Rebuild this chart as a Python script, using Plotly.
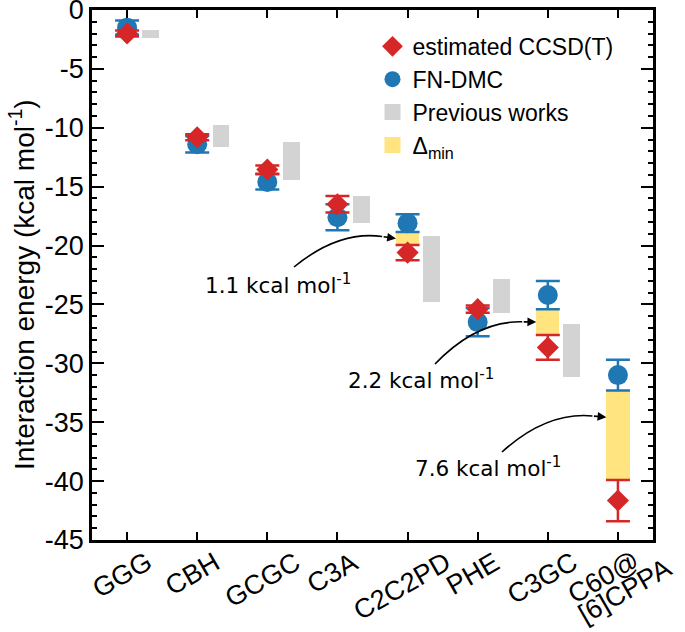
import plotly.graph_objects as go

# ---------------- data ----------------
categories = ["GGG", "CBH", "GCGC", "C3A", "C2C2PD", "PHE", "C3GC", "C60@<br>[6]CPPA"]
cat_pos = [0, 1, 2, 3, 4, 5, 6, 7]

ccsd = [-2.0, -10.8, -13.55, -16.5, -20.6, -25.4, -28.65, -41.65]
ccsd_err = [0.25, 0.25, 0.35, 0.7, 0.65, 0.3, 1.05, 1.75]

dmc = [-1.5, -11.4, -14.6, -17.6, -18.1, -26.5, -24.2, -31.0]
dmc_err = [0.6, 0.7, 0.65, 1.1, 0.75, 1.2, 1.2, 1.3]

prev_low = [-2.4, -11.6, -14.4, -18.1, -24.8, -25.7, -31.2]
prev_high = [-1.7, -9.8, -11.2, -15.8, -19.2, -22.8, -26.7]

delta_idx = [4, 6, 7]
delta_labels = ["1.1 kcal mol<sup>-1</sup>", "2.2 kcal mol<sup>-1</sup>", "7.6 kcal mol<sup>-1</sup>"]

y_tick_vals = [0, -5, -10, -15, -20, -25, -30, -35, -40, -45]
y_tick_text = ["0", "-5", "-10", "-15", "-20", "-25", "-30", "-35", "-40", "-45"]
y_title = "Interaction energy (kcal mol<sup>-1</sup>)"

# ---------------- style ----------------
RED = "#d62728"
BLUE = "#1f77b4"
GREY = "#d3d3d3"
YELLOW = "#ffe480"
FONT = "Liberation Sans, Arial, sans-serif"
AFONT = "DejaVu Sans, sans-serif"

W, H = 685, 632
ML, MR, MT, MB = 92, 32, 10, 92
XR = [-0.5, 7.5]
YR = [-45, 0]

def to_px(x, y):
    pw = W - ML - MR
    ph = H - MT - MB
    px = ML + (x - XR[0]) / (XR[1] - XR[0]) * pw
    py = MT + (YR[1] - y) / (YR[1] - YR[0]) * ph
    return px, py

def to_data(px, py):
    pw = W - ML - MR
    ph = H - MT - MB
    x = XR[0] + (px - ML) / pw * (XR[1] - XR[0])
    y = YR[1] - (py - MT) / ph * (YR[1] - YR[0])
    return x, y

fig = go.Figure()

# previous works (grey bars)
prev_x = [cat_pos[i] + 0.34 for i in range(len(prev_low))]
fig.add_trace(go.Bar(
    x=prev_x, y=[h - l for l, h in zip(prev_low, prev_high)], base=prev_low,
    width=0.24, marker=dict(color=GREY, line=dict(width=0)),
    showlegend=False, hoverinfo="skip"))

# delta_min (yellow bars)
d_x = [cat_pos[i] for i in delta_idx]
d_base = [ccsd[i] + ccsd_err[i] for i in delta_idx]
d_top = [dmc[i] - dmc_err[i] for i in delta_idx]
fig.add_trace(go.Bar(
    x=d_x, y=[t - b for b, t in zip(d_base, d_top)], base=d_base,
    width=0.33, marker=dict(color=YELLOW, line=dict(width=0)),
    showlegend=False, hoverinfo="skip"))

# FN-DMC
fig.add_trace(go.Scatter(
    x=cat_pos, y=dmc, mode="markers", name="FN-DMC", legendrank=2,
    marker=dict(symbol="circle", size=20, color=BLUE),
    error_y=dict(type="data", array=dmc_err, color=BLUE, thickness=2.5, width=12)))

# estimated CCSD(T)
fig.add_trace(go.Scatter(
    x=cat_pos, y=ccsd, mode="markers", name="estimated CCSD(T)", legendrank=1,
    marker=dict(symbol="diamond", size=17, color=RED),
    error_y=dict(type="data", array=ccsd_err, color=RED, thickness=2.5, width=12)))

# legend proxies for the bars
fig.add_trace(go.Scatter(x=[None], y=[None], mode="markers", name="Previous works", legendrank=3,
                         marker=dict(symbol="square", size=16, color=GREY)))
fig.add_trace(go.Scatter(x=[None], y=[None], mode="markers", name="Δ<sub>min</sub>", legendrank=4,
                         marker=dict(symbol="square", size=16, color=YELLOW)))

# curved arrows with labels
ann_layout = [
    ((278, 284), (294, 267), 0.5),
    ((421, 379), (435, 364), 0.5),
    ((488, 467), (502, 452), 0.3),
]
shapes = []
annotations = []
for k, i in enumerate(delta_idx):
    (tx, ty), (sx, sy), frac = ann_layout[k]
    ex_d = cat_pos[i] - 0.165
    ey_d = d_top[k] - frac * (d_top[k] - d_base[k])
    ex, ey = to_px(ex_d, ey_d)
    mx, my = (sx + ex) / 2, (sy + ey) / 2
    dx, dy = ex - sx, ey - sy
    L = (dx * dx + dy * dy) ** 0.5
    nx, ny = dy / L, -dx / L
    rad = 0.22 * L
    cx, cy = mx + nx * rad, my + ny * rad
    sxd, syd = to_data(sx, sy)
    cxd, cyd = to_data(cx, cy)
    tx_e, ty_e = ex - cx, ey - cy
    tl = (tx_e ** 2 + ty_e ** 2) ** 0.5
    hx, hy = ex - tx_e / tl * 14, ey - ty_e / tl * 14
    hxd, hyd = to_data(hx, hy)
    shapes.append(dict(type="path", xref="x", yref="y",
                       path=f"M {sxd},{syd} Q {cxd},{cyd} {hxd},{hyd}",
                       line=dict(color="black", width=1.6)))
    annotations.append(dict(x=ex_d, y=ey_d, xref="x", yref="y", text="", showarrow=True,
                            ax=hxd, ay=hyd, axref="x", ayref="y",
                            arrowhead=2, arrowsize=1.1, arrowwidth=1.6, arrowcolor="black",
                            standoff=0))
    txd, tyd = to_data(tx, ty)
    annotations.append(dict(x=txd, y=tyd, xref="x", yref="y", text=delta_labels[k],
                            showarrow=False, xanchor="center", yanchor="middle",
                            font=dict(family=AFONT, size=21.5, color="black")))

# rotated, centred category labels
LINE_SHIFTS = [(-14, -37), (7, -51)]
for c, lab in zip(cat_pos, categories):
    parts = lab.split("<br>")
    if len(parts) == 1:
        annotations.append(dict(x=c, y=0, xref="x", yref="paper", text=lab, showarrow=False,
                                textangle=-30, xanchor="center", yanchor="top",
                                xshift=-5, yshift=-4,
                                font=dict(family=FONT, size=27, color="black")))
    else:
        for part, (xs, ys) in zip(parts, LINE_SHIFTS):
            annotations.append(dict(x=c, y=0, xref="x", yref="paper", text=part, showarrow=False,
                                    textangle=-30, xanchor="center", yanchor="middle",
                                    xshift=xs, yshift=ys,
                                    font=dict(family=FONT, size=27, color="black")))

# y-axis title as a rotated annotation
annotations.append(dict(x=0, y=0.5, xref="paper", yref="paper", text=y_title, showarrow=False,
                        textangle=-90, xanchor="center", yanchor="middle",
                        xshift=-(ML - 22), yshift=-10,
                        font=dict(family=FONT, size=28, color="black")))

fig.update_layout(
    width=W, height=H,
    margin=dict(l=ML, r=MR, t=MT, b=MB),
    plot_bgcolor="white", paper_bgcolor="white",
    font=dict(family=FONT, size=27, color="black"),
    barmode="overlay", bargap=0,
    shapes=shapes, annotations=annotations,
    legend=dict(x=0.5, y=0.972, xanchor="left", yanchor="top",
                bgcolor="rgba(0,0,0,0)", font=dict(family=FONT, size=23),
                itemsizing="trace"),
    xaxis=dict(range=XR, tickvals=cat_pos, showticklabels=False, automargin=False,
               showline=True, linewidth=2.5, linecolor="black", mirror="allticks",
               ticks="inside", ticklen=8, tickwidth=2, tickcolor="black",
               showgrid=False, zeroline=False),
    yaxis=dict(range=YR, tickvals=y_tick_vals, ticktext=y_tick_text, automargin=False,
               ticklabeloverflow="allow",
               showline=True, linewidth=2.5, linecolor="black", mirror="allticks",
               ticks="inside", ticklen=12, tickwidth=2, tickcolor="black",
               minor=dict(ticks="inside", dtick=1, ticklen=5, tickwidth=1.5, tickcolor="black",
                          showgrid=False),
               showgrid=False, zeroline=False, tickfont=dict(size=27)),
)

fig.write_html("out.html", config={"displayModeBar": False},
               post_script="document.body.style.margin='0';")
